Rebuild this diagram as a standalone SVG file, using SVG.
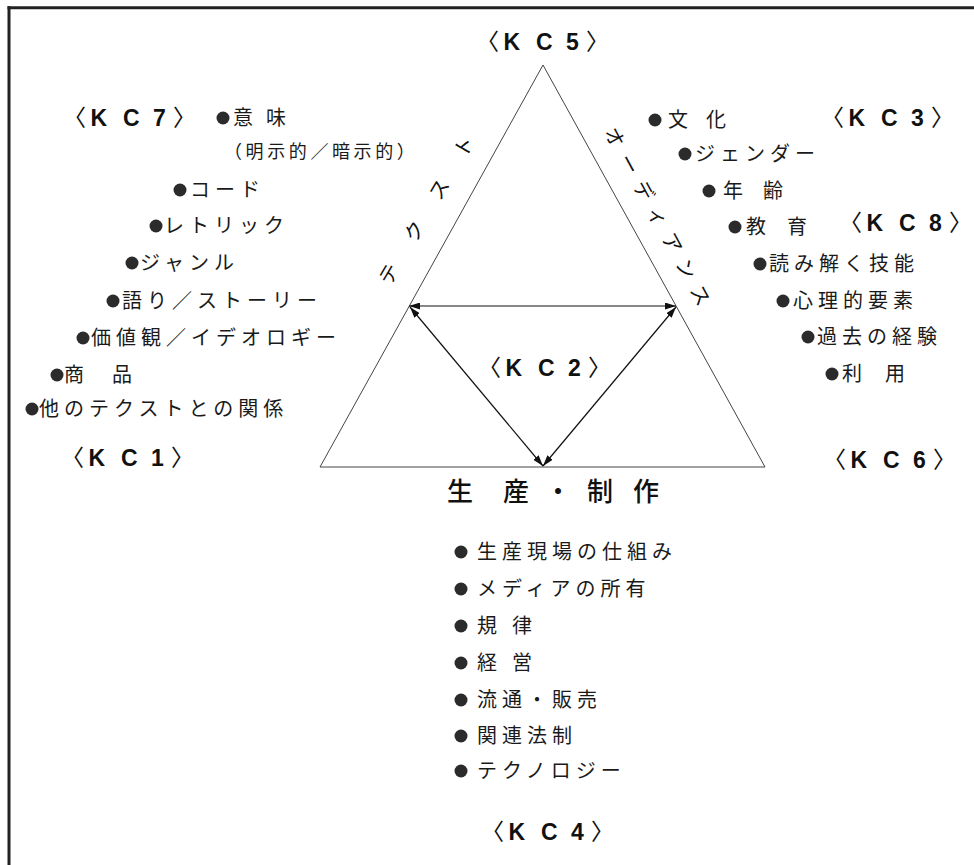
<svg xmlns="http://www.w3.org/2000/svg" width="974" height="865" viewBox="0 0 974 865">
<style>
.jp{font-family:"Liberation Serif","Noto Sans CJK JP",serif;font-size:20px;letter-spacing:5px;fill:#1a1a1a}
.sm{font-size:18px;letter-spacing:3.6px}
.kc{font-family:"Liberation Sans","Noto Sans CJK JP",sans-serif;font-size:23px;fill:#111}
.kc .b{font-weight:bold}
.side{font-family:"Noto Sans CJK JP",sans-serif;font-size:20px;fill:#111}
.base{font-family:"Noto Sans CJK JP",sans-serif;font-size:26px;font-weight:500;fill:#111}
.dot{fill:#2b2b2b}
.tri{fill:none;stroke:#444;stroke-width:1}
.arr{stroke:#111;stroke-width:1.2;fill:none;marker-start:url(#ah);marker-end:url(#ah)}
</style>
<defs>
<marker id="ah" viewBox="0 0 11 7" refX="11" refY="3.5" markerWidth="11" markerHeight="7" markerUnits="userSpaceOnUse" orient="auto-start-reverse">
<path d="M0,0 L11,3.5 L0,7 z" fill="#111"/>
</marker>
</defs>
<rect width="974" height="865" fill="#fff"/>
<g id="frame" stroke="#222" stroke-width="3" fill="none">
<line x1="7.5" y1="7.7" x2="974" y2="7.7"/>
<line x1="9" y1="6.2" x2="9" y2="865"/>
</g>
<g id="triangle"><polygon class="tri" points="320,467 543,65 765,467"/></g>
<g id="connectors">
<line class="arr" x1="409" y1="306" x2="676" y2="306"/>
<line class="arr" x1="410" y1="307" x2="543" y2="466"/>
<line class="arr" x1="676" y1="307" x2="543" y2="466"/>
</g>
<g id="side-labels">
<text class="side" transform="translate(383,282) rotate(-59.6)" dominant-baseline="central" letter-spacing="29.5">テクスト</text>
<text class="side" transform="translate(611,128) rotate(61.5)" dominant-baseline="central" letter-spacing="10.4">オーディアンス</text>
<text class="base" x="447 503 545 587 633" y="501">生産・制作</text>
</g>
<g id="kc-labels">
<text id="kc5" class="kc" x="476 503.5 536 566 586" y="50">〈<tspan class="b">KC5</tspan>〉</text>
<text id="kc7" class="kc" x="63 90.5 123 153 173" y="126">〈<tspan class="b">KC7</tspan>〉</text>
<text id="kc1" class="kc" x="61 88.5 121 151 171" y="466">〈<tspan class="b">KC1</tspan>〉</text>
<text id="kc3" class="kc" x="821 848.5 881 911 931" y="126">〈<tspan class="b">KC3</tspan>〉</text>
<text id="kc8" class="kc" x="839 866.5 899 929 949" y="231">〈<tspan class="b">KC8</tspan>〉</text>
<text id="kc6" class="kc" x="823 850.5 883 913 933" y="468">〈<tspan class="b">KC6</tspan>〉</text>
<text id="kc2" class="kc" x="478 505.5 538 568 588" y="376">〈<tspan class="b">KC2</tspan>〉</text>
<text id="kc4" class="kc" x="481 508.5 541 571 591" y="840">〈<tspan class="b">KC4</tspan>〉</text>
</g>
<g id="kc7-list">
<g id="n-imi"><circle class="dot" cx="223" cy="118" r="6.5"/><text class="jp" x="233 253 266" y="125">意 味</text></g>
<g id="n-meiji"><text class="jp sm" x="224" y="158">（明示的／暗示的）</text></g>
<g id="n-code"><circle class="dot" cx="180" cy="190" r="6.5"/><text class="jp" x="190" y="197">コード</text></g>
<g id="n-rhetoric"><circle class="dot" cx="156" cy="226" r="6.5"/><text class="jp" x="164" y="233">レトリック</text></g>
<g id="n-genre"><circle class="dot" cx="132" cy="263" r="6.5"/><text class="jp" x="140" y="270">ジャンル</text></g>
<g id="n-story"><circle class="dot" cx="113" cy="301" r="6.5"/><text class="jp" x="122" y="308">語り／ストーリー</text></g>
<g id="n-ideology"><circle class="dot" cx="83" cy="338" r="6.5"/><text class="jp" x="91" y="345">価値観／イデオロギー</text></g>
<g id="n-shohin"><circle class="dot" cx="57" cy="375" r="6.5"/><text class="jp" x="64 84 112" y="382">商 品</text></g>
<g id="n-intertext"><circle class="dot" cx="32" cy="409" r="6.5"/><text class="jp" x="39" y="416">他のテクストとの関係</text></g>
</g>
<g id="kc3-list">
<g id="n-bunka"><circle class="dot" cx="655" cy="120" r="6.5"/><text class="jp" x="668 688 706" y="127">文 化</text></g>
<g id="n-gender"><circle class="dot" cx="685" cy="154" r="6.5"/><text class="jp" x="695" y="161">ジェンダー</text></g>
<g id="n-age"><circle class="dot" cx="709" cy="191" r="6.5"/><text class="jp" x="723 743 763" y="198">年 齢</text></g>
<g id="n-edu"><circle class="dot" cx="735" cy="227" r="6.5"/><text class="jp" x="746 766 787" y="234">教 育</text></g>
<g id="n-skill"><circle class="dot" cx="760" cy="264" r="6.5"/><text class="jp" x="769" y="271">読み解く技能</text></g>
<g id="n-psych"><circle class="dot" cx="783" cy="301" r="6.5"/><text class="jp" x="793" y="308">心理的要素</text></g>
<g id="n-past"><circle class="dot" cx="808" cy="337" r="6.5"/><text class="jp" x="817" y="344">過去の経験</text></g>
<g id="n-use"><circle class="dot" cx="832" cy="374" r="6.5"/><text class="jp" x="842 862 885" y="381">利 用</text></g>
</g>
<g id="kc4-list">
<g id="n-site"><circle class="dot" cx="461" cy="552" r="6.5"/><text class="jp" x="477" y="559">生産現場の仕組み</text></g>
<g id="n-owner"><circle class="dot" cx="461" cy="589" r="6.5"/><text class="jp" x="477" y="596">メディアの所有</text></g>
<g id="n-kiritsu"><circle class="dot" cx="461" cy="626" r="6.5"/><text class="jp" x="477 497 512" y="633">規 律</text></g>
<g id="n-keiei"><circle class="dot" cx="461" cy="663" r="6.5"/><text class="jp" x="477 497 512" y="670">経 営</text></g>
<g id="n-ryutsu"><circle class="dot" cx="461" cy="700" r="6.5"/><text class="jp" x="477" y="707">流通・販売</text></g>
<g id="n-law"><circle class="dot" cx="461" cy="736" r="6.5"/><text class="jp" x="477" y="743">関連法制</text></g>
<g id="n-tech"><circle class="dot" cx="461" cy="771" r="6.5"/><text class="jp" x="477" y="778">テクノロジー</text></g>
</g>
</svg>
